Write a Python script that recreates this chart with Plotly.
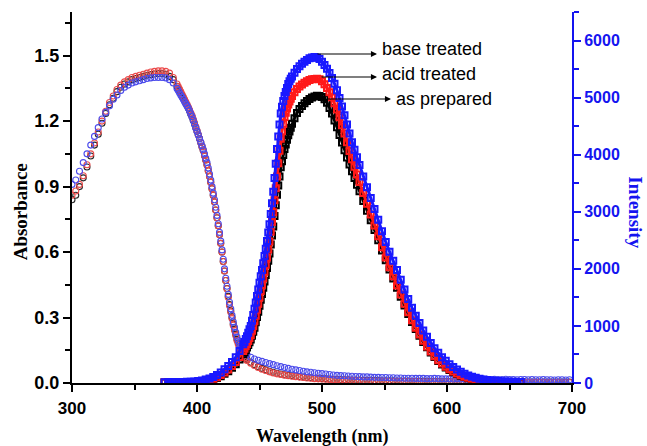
import plotly.graph_objects as go

# ---------------- data ----------------
# absorbance wavelengths: 3 nm steps, 1 nm steps over the steep edge
abs_wl = list(range(300, 385, 3)) + list(range(385, 441)) + list(range(443, 700, 3))

abs_prepared = [
    0.84, 0.86, 0.90, 0.94, 0.99, 1.04, 1.09, 1.14, 1.19, 1.235,
    1.275, 1.305, 1.335, 1.355, 1.37, 1.38, 1.39, 1.395, 1.40, 1.405,
    1.41, 1.413, 1.416, 1.418, 1.418, 1.415, 1.405, 1.39, 1.36,
] + [
    1.35, 1.34, 1.33, 1.318, 1.307, 1.295, 1.283, 1.272, 1.26, 1.247,
    1.233, 1.22, 1.203, 1.187, 1.17, 1.153, 1.137, 1.12, 1.102, 1.083,
    1.065, 1.043, 1.022, 1.00, 0.973, 0.947, 0.92, 0.89, 0.86, 0.83,
    0.793, 0.757, 0.72, 0.68, 0.64, 0.60, 0.557, 0.513, 0.47, 0.433,
    0.397, 0.36, 0.33, 0.30, 0.27, 0.247, 0.223, 0.20, 0.183, 0.167,
    0.15, 0.14, 0.13, 0.12, 0.113, 0.107,
] + [
    0.095, 0.084, 0.075, 0.067, 0.060, 0.054, 0.049, 0.045, 0.041, 0.038,
    0.035, 0.033, 0.031, 0.029, 0.027, 0.025, 0.024, 0.022, 0.021, 0.020,
    0.019, 0.018, 0.017, 0.017, 0.016, 0.015, 0.015, 0.014, 0.013, 0.013,
    0.012, 0.012, 0.012, 0.011, 0.011, 0.010, 0.010, 0.010, 0.010, 0.009,
    0.009, 0.009, 0.009, 0.008, 0.008, 0.008, 0.008, 0.008, 0.007, 0.007,
    0.007, 0.007, 0.007, 0.007, 0.006, 0.007, 0.006, 0.006, 0.006, 0.006,
    0.006, 0.006, 0.005, 0.006, 0.005, 0.005, 0.005, 0.005, 0.005, 0.005,
    0.005, 0.005, 0.004, 0.005, 0.004, 0.004, 0.004, 0.004, 0.004, 0.004,
    0.004, 0.004, 0.004, 0.004, 0.004, 0.004,
]

abs_acid = [
    0.86, 0.88, 0.91, 0.95, 1.00, 1.05, 1.10, 1.15, 1.20, 1.245,
    1.285, 1.315, 1.345, 1.365, 1.38, 1.39, 1.40, 1.405, 1.41, 1.415,
    1.42, 1.425, 1.428, 1.43, 1.43, 1.428, 1.42, 1.40, 1.37,
] + [
    1.358, 1.347, 1.335, 1.323, 1.312, 1.30, 1.288, 1.277, 1.265, 1.252,
    1.238, 1.225, 1.208, 1.192, 1.175, 1.157, 1.138, 1.12, 1.102, 1.083,
    1.065, 1.043, 1.022, 1.00, 0.973, 0.947, 0.92, 0.89, 0.86, 0.83,
    0.793, 0.757, 0.72, 0.68, 0.64, 0.60, 0.557, 0.513, 0.47, 0.432,
    0.393, 0.355, 0.325, 0.295, 0.265, 0.242, 0.218, 0.195, 0.178, 0.161,
    0.145, 0.135, 0.125, 0.115, 0.109, 0.103,
] + [
    0.091, 0.080, 0.071, 0.063, 0.057, 0.051, 0.046, 0.042, 0.039, 0.036,
    0.033, 0.031, 0.029, 0.027, 0.025, 0.023, 0.022, 0.020, 0.019, 0.018,
    0.017, 0.016, 0.015, 0.015, 0.014, 0.013, 0.013, 0.012, 0.011, 0.011,
    0.010, 0.010, 0.010, 0.009, 0.009, 0.009, 0.008, 0.008, 0.008, 0.008,
    0.007, 0.007, 0.007, 0.007, 0.007, 0.006, 0.006, 0.006, 0.006, 0.006,
    0.006, 0.005, 0.005, 0.005, 0.005, 0.005, 0.005, 0.005, 0.004, 0.005,
    0.004, 0.004, 0.004, 0.004, 0.004, 0.004, 0.004, 0.003, 0.004, 0.003,
    0.003, 0.003, 0.003, 0.003, 0.003, 0.003, 0.003, 0.003, 0.003, 0.002,
    0.003, 0.002, 0.003, 0.002, 0.002, 0.002,
]

abs_base = [
    0.91, 0.93, 0.97, 1.01, 1.05, 1.09, 1.13, 1.17, 1.21, 1.24,
    1.27, 1.30, 1.32, 1.34, 1.355, 1.365, 1.375, 1.38, 1.385, 1.39,
    1.395, 1.398, 1.40, 1.40, 1.40, 1.398, 1.39, 1.375, 1.35,
] + [
    1.34, 1.33, 1.32, 1.31, 1.30, 1.29, 1.28, 1.27, 1.26, 1.247,
    1.234, 1.22, 1.204, 1.187, 1.17, 1.153, 1.137, 1.12, 1.104, 1.087,
    1.07, 1.05, 1.03, 1.01, 0.985, 0.958, 0.93, 0.90, 0.87, 0.84,
    0.805, 0.768, 0.73, 0.69, 0.65, 0.61, 0.567, 0.523, 0.48, 0.443,
    0.406, 0.37, 0.34, 0.31, 0.28, 0.255, 0.232, 0.21, 0.193, 0.178,
    0.165, 0.156, 0.148, 0.14, 0.135, 0.13,
] + [
    0.118, 0.110, 0.104, 0.099, 0.094, 0.089, 0.084, 0.079, 0.075, 0.071,
    0.067, 0.063, 0.060, 0.057, 0.054, 0.051, 0.049, 0.047, 0.045, 0.043,
    0.041, 0.039, 0.037, 0.035, 0.034, 0.033, 0.032, 0.031, 0.030, 0.029,
    0.028, 0.028, 0.027, 0.026, 0.026, 0.025, 0.025, 0.024, 0.024, 0.023,
    0.023, 0.022, 0.022, 0.022, 0.021, 0.021, 0.021, 0.020, 0.020, 0.021,
    0.020, 0.019, 0.019, 0.019, 0.018, 0.019, 0.018, 0.018, 0.017, 0.018,
    0.017, 0.017, 0.018, 0.017, 0.016, 0.017, 0.016, 0.016, 0.017, 0.016,
    0.016, 0.015, 0.016, 0.016, 0.015, 0.016, 0.015, 0.015, 0.016, 0.015,
    0.015, 0.014, 0.015, 0.015, 0.014, 0.015,
]

# emission wavelengths: finer sampling where the bands are steep
em_wl = (list(range(374, 438, 3)) + list(range(438, 477)) +
         list(range(478, 531, 2)) + list(range(533, 660, 3)))

em_prepared = [
    8, 8, 9, 9, 10, 11, 12, 14, 17, 21, 27, 36, 49, 66, 89, 120, 160, 208, 265, 330, 410, 505,
] + [
    540, 580, 620, 665, 712, 760, 830, 900, 970, 1063,
    1157, 1250, 1353, 1457, 1560, 1670, 1780, 1890, 2017, 2143,
    2270, 2427, 2583, 2740, 2927, 3113, 3300, 3460, 3620, 3780,
    3887, 3993, 4100, 4180, 4260, 4340, 4407, 4473, 4540,
] + [
    4640, 4730, 4800, 4855, 4900, 4940, 4975, 5000, 5020, 5032,
    5030, 5010, 4970, 4910, 4820, 4720, 4600, 4480, 4345, 4215,
    4080, 3950, 3830, 3710, 3590, 3475, 3360,
] + [
    3190, 3020, 2850, 2680, 2500, 2320, 2150, 1990, 1830, 1670,
    1510, 1360, 1210, 1070, 945, 830, 720, 625, 535, 455,
    385, 325, 272, 228, 190, 157, 128, 104, 85, 69,
    56, 45, 37, 30, 24, 20, 16, 13, 11, 10, 9, 8, 7,
]

em_acid = [
    10, 10, 11, 11, 12, 13, 14, 16, 19, 24, 31, 42, 57, 76, 102, 138, 182, 235, 296, 368, 455, 560,
] + [
    600, 642, 685, 735, 787, 840, 915, 995, 1080, 1180,
    1285, 1390, 1500, 1610, 1720, 1835, 1950, 2070, 2200, 2340,
    2480, 2650, 2820, 2990, 3200, 3410, 3620, 3850, 4070, 4280,
    4410, 4540, 4660, 4735, 4810, 4880, 4930, 4980, 5030,
] + [
    5095, 5150, 5195, 5230, 5260, 5287, 5307, 5320, 5328, 5330,
    5320, 5285, 5235, 5170, 5093, 5005, 4900, 4790, 4657, 4517,
    4370, 4217, 4063, 3920, 3787, 3653, 3520,
] + [
    3330, 3140, 2950, 2760, 2570, 2380, 2200, 2030, 1870, 1710,
    1550, 1390, 1240, 1100, 970, 850, 740, 640, 550, 470,
    400, 340, 285, 240, 200, 165, 135, 110, 90, 74,
    60, 49, 40, 33, 27, 22, 18, 15, 13, 11, 10, 9, 8,
]

em_base = [
    15, 15, 16, 16, 17, 18, 20, 23, 28, 35, 45, 60, 80, 105, 140, 185, 240, 300, 370, 450, 560, 680,
] + [
    720, 770, 820, 880, 940, 1000, 1090, 1190, 1300, 1410,
    1525, 1640, 1755, 1870, 1980, 2100, 2225, 2350, 2490, 2635,
    2780, 2960, 3150, 3350, 3590, 3840, 4100, 4320, 4530, 4720,
    4840, 4940, 5030, 5100, 5170, 5240, 5285, 5330, 5370,
] + [
    5435, 5500, 5550, 5592, 5628, 5660, 5688, 5704, 5710, 5700,
    5675, 5630, 5572, 5505, 5430, 5345, 5245, 5130, 4993, 4843,
    4690, 4530, 4373, 4220, 4087, 3953, 3820,
] + [
    3620, 3430, 3240, 3050, 2860, 2660, 2470, 2300, 2140, 1980,
    1810, 1640, 1470, 1320, 1180, 1050, 920, 810, 700, 610,
    530, 450, 390, 330, 280, 235, 195, 160, 130, 110,
    90, 75, 63, 53, 45, 38, 33, 28, 25, 22, 20, 18, 17,
]

series_labels = ["as prepared", "acid treated", "base treated"]

for arr in (abs_prepared, abs_acid, abs_base):
    assert len(arr) == len(abs_wl), (len(arr), len(abs_wl))
for arr in (em_prepared, em_acid, em_base):
    assert len(arr) == len(em_wl), (len(arr), len(em_wl))

# ---------------- styling ----------------
BLUE = "#1414f0"
abs_colors = ["rgb(40,40,40)", "rgb(235,75,75)", "rgb(75,75,235)"]
em_colors = ["rgb(0,0,0)", "rgb(255,25,25)", "rgb(25,25,255)"]

fig = go.Figure()

for vals, col, name in zip([abs_prepared, abs_acid, abs_base], abs_colors, series_labels):
    fig.add_trace(go.Scatter(
        x=abs_wl, y=vals, mode="markers", name=name, yaxis="y",
        marker=dict(symbol="circle-open", size=6, color=col, line=dict(width=1.1, color=col)),
        showlegend=False,
    ))

for vals, col, name in zip([em_prepared, em_acid, em_base], em_colors, series_labels):
    fig.add_trace(go.Scatter(
        x=em_wl, y=vals, mode="lines+markers", name=name, yaxis="y2",
        line=dict(color=col, width=3),
        marker=dict(symbol="square-open", size=6, color=col, line=dict(width=2, color=col)),
        showlegend=False,
    ))

W, H = 647, 446
L, R, T, B = 72, 75, 12, 63

tickfont_l = dict(family="Liberation Sans, Arial", size=18, color="black", weight="bold")
tickfont_b = dict(family="Liberation Sans, Arial", size=17, color="black", weight="bold")
tickfont_r = dict(family="Liberation Sans, Arial", size=16, color=BLUE, weight="bold")

fig.update_layout(
    width=W, height=H,
    margin=dict(l=L, r=R, t=T, b=B, pad=0),
    paper_bgcolor="white", plot_bgcolor="white",
    showlegend=False,
    xaxis=dict(
        range=[300, 700], tickvals=[300, 400, 500, 600, 700],
        showgrid=False, zeroline=False,
        showline=True, linecolor="black", linewidth=2,
        ticks="outside", ticklen=7, tickwidth=2, tickcolor="black",
        minor=dict(tickvals=[350, 450, 550, 650], ticks="outside", ticklen=5, tickwidth=2, tickcolor="black"),
        tickfont=tickfont_b, ticklabelstandoff=2,
    ),
    yaxis=dict(
        range=[0, 1.7], tickvals=[0.0, 0.3, 0.6, 0.9, 1.2, 1.5],
        ticktext=["0.0", "0.3", "0.6", "0.9", "1.2", "1.5"],
        showgrid=False, zeroline=False,
        showline=True, linecolor="black", linewidth=2,
        ticks="outside", ticklen=7, tickwidth=2, tickcolor="black",
        minor=dict(tickvals=[0.15, 0.45, 0.75, 1.05, 1.35, 1.65], ticks="outside", ticklen=5, tickwidth=2, tickcolor="black"),
        tickfont=tickfont_l,
    ),
    yaxis2=dict(
        range=[0, 6500], tickvals=[0, 1000, 2000, 3000, 4000, 5000, 6000],
        overlaying="y", side="right", anchor="x",
        showgrid=False, zeroline=False,
        showline=True, linecolor=BLUE, linewidth=2,
        ticks="outside", ticklen=7, tickwidth=2, tickcolor=BLUE,
        minor=dict(tickvals=[500, 1500, 2500, 3500, 4500, 5500, 6500], ticks="outside", ticklen=5, tickwidth=2, tickcolor=BLUE),
        tickfont=tickfont_r,
    ),
)

def px2wl(px):
    return 300 + (px - L) * 400 / (W - L - R)

def py2int(py):
    return (H - B - py) * 6500 / (H - T - B)

annots = []
serif = "Liberation Serif, Times New Roman"
annots.append(dict(text="Absorbance", xref="paper", yref="paper", x=-0.104, y=0.46,
                   textangle=-90, showarrow=False, xanchor="center", yanchor="middle",
                   font=dict(family=serif, size=19, color="black", weight="bold")))
annots.append(dict(text="Wavelength (nm)", xref="paper", yref="paper", x=0.5, y=-0.145,
                   showarrow=False, xanchor="center", yanchor="middle",
                   font=dict(family=serif, size=18, color="black", weight="bold")))
annots.append(dict(text="Intensity", xref="paper", yref="paper", x=1.128, y=0.46,
                   textangle=90, showarrow=False, xanchor="center", yanchor="middle",
                   font=dict(family=serif, size=19, color=BLUE, weight="bold")))

# pointer labels: (text, arrow start px x, arrow head px x, arrow px y, text px x, text px y)
pointers = [
    ("base treated", 316, 377, 54, 380, 49),
    ("acid treated", 320, 377, 77, 380, 74),
    ("as prepared", 325, 391, 99, 394, 99),
]
for txt, sx, hx, ay_, tx, ty in pointers:
    annots.append(dict(
        x=px2wl(hx), y=py2int(ay_), xref="x", yref="y2",
        ax=px2wl(sx), ay=py2int(ay_), axref="x", ayref="y2",
        text="", showarrow=True, arrowhead=2, arrowsize=1.1, arrowwidth=1.1, arrowcolor="black",
        standoff=0, startstandoff=0,
    ))
    annots.append(dict(
        x=px2wl(tx), y=py2int(ty), xref="x", yref="y2", text=txt, showarrow=False,
        xanchor="left", yanchor="middle",
        font=dict(family="Liberation Sans, Arial", size=18, color="black"),
    ))

fig.update_layout(annotations=annots)

fig.write_html("out.html", config={"displayModeBar": False})
